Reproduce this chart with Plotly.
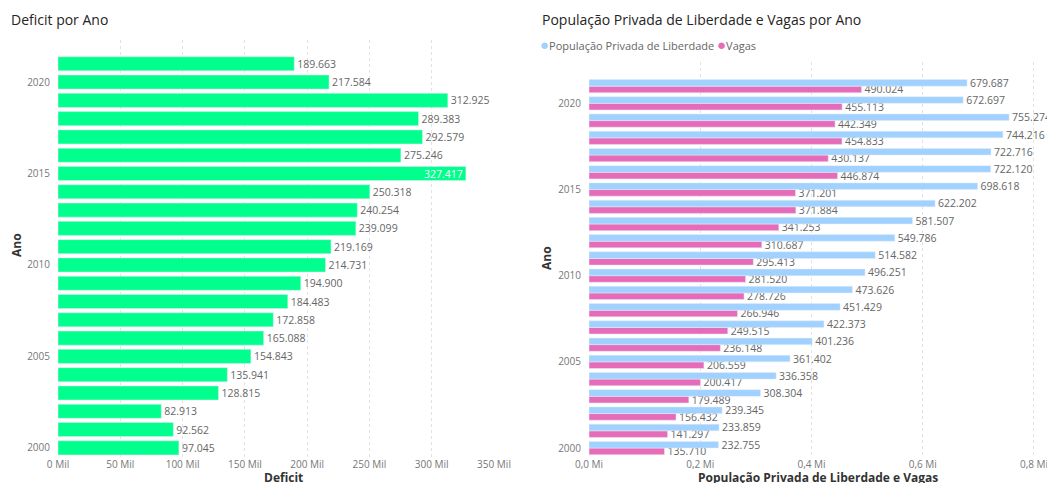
import plotly.graph_objects as go

W, H = 1047, 483

anos = list(range(2021, 1999, -1))  # 2021 .. 2000
deficit = [189663, 217584, 312925, 289383, 292579, 275246, 327417, 250318, 240254, 239099,
           219169, 214731, 194900, 184483, 172858, 165088, 154843, 135941, 128815, 82913,
           92562, 97045]
populacao = [679687, 672697, 755274, 744216, 722716, 722120, 698618, 622202, 581507, 549786,
             514582, 496251, 473626, 451429, 422373, 401236, 361402, 336358, 308304, 239345,
             233859, 232755]
vagas = [490024, 455113, 442349, 454833, 430137, 446874, 371201, 371884, 341253, 310687,
         295413, 281520, 278726, 266946, 249515, 236148, 206559, 200417, 179489, 156432,
         141297, 135710]

left_tickvals = [0, 50000, 100000, 150000, 200000, 250000, 300000, 350000]
left_ticktext = ["0 Mil", "50 Mil", "100 Mil", "150 Mil", "200 Mil", "250 Mil", "300 Mil", "350 Mil"]
right_tickvals = [0, 200000, 400000, 600000, 800000]
right_ticktext = ["0,0 Mi", "0,2 Mi", "0,4 Mi", "0,6 Mi", "0,8 Mi"]
year_ticks = [2000, 2005, 2010, 2015, 2020]

FONT = "Segoe UI, Open Sans, sans-serif"
GREEN = "#00FF8C"
BLUE = "#A0D1FF"
PINK = "#E66CB9"
LABEL = "#666666"
LBL_SIZE = 10.5
TICK_SIZE = 10

def px_x(p):
    return p / W

def px_y(p):
    return 1 - p / H

fig = go.Figure()

max_def = max(deficit)
fig.add_trace(go.Bar(
    y=anos, x=deficit, orientation="h", marker_color=GREEN,
    texttemplate="%{x:,.0f}",
    textposition=["inside" if v == max_def else "outside" for v in deficit],
    insidetextanchor="end", constraintext="none",
    insidetextfont=dict(color="white", size=LBL_SIZE, family=FONT),
    outsidetextfont=dict(color=LABEL, size=LBL_SIZE, family=FONT),
    cliponaxis=False, showlegend=False,
    xaxis="x", yaxis="y",
    hovertemplate="%{y}: %{x:,.0f}<extra></extra>",
))

# in horizontal grouped bars the first trace sits lowest -> add Vagas first
fig.add_trace(go.Bar(
    y=anos, x=vagas, orientation="h", marker_color=PINK,
    name="Vagas",
    texttemplate="%{x:,.0f}", textposition="outside", constraintext="none",
    outsidetextfont=dict(color=LABEL, size=LBL_SIZE, family=FONT),
    cliponaxis=False, showlegend=False,
    xaxis="x2", yaxis="y2",
))
fig.add_trace(go.Bar(
    y=anos, x=populacao, orientation="h", marker_color=BLUE,
    name="População Privada de Liberdade",
    texttemplate="%{x:,.0f}", textposition="outside", constraintext="none",
    outsidetextfont=dict(color=LABEL, size=LBL_SIZE, family=FONT),
    cliponaxis=False, showlegend=False,
    xaxis="x2", yaxis="y2",
))

grid = dict(showgrid=True, gridcolor="#E2E2E2", griddash="dot", gridwidth=1,
            zeroline=False, showline=False, ticks="", automargin=False,
            ticklabeloverflow="allow",
            tickfont=dict(size=TICK_SIZE, color="#777777", family=FONT))
ygrid = dict(showgrid=False, zeroline=False, ticks="", automargin=False,
             tickvals=year_ticks, ticklabelstandoff=7,
             tickfont=dict(size=TICK_SIZE, color="#777777", family=FONT))

def ann(text, x, y, size=12, color="#333333", xanchor="left", textangle=0):
    return dict(text=text, x=px_x(x), y=px_y(y), xref="paper", yref="paper",
                xanchor=xanchor, yanchor="middle", showarrow=False, textangle=textangle,
                font=dict(size=size, color=color, family=FONT))

fig.update_layout(
    width=W, height=H, margin=dict(l=0, r=0, t=0, b=0),
    paper_bgcolor="white", plot_bgcolor="white",
    separators=",.",
    font=dict(family=FONT, color="#333333"),
    barmode="group", bargap=0.23, bargroupgap=0,
    showlegend=False,
    xaxis=dict(domain=[px_x(58), px_x(494)], range=[0, 350000], anchor="y",
               tickvals=left_tickvals, ticktext=left_ticktext, **grid),
    yaxis=dict(domain=[px_y(457), px_y(40)], range=[1999.5, 2022.3], anchor="x", **ygrid),
    xaxis2=dict(domain=[px_x(589), px_x(1040)], range=[0, 810800], anchor="y2",
                tickvals=right_tickvals, ticktext=right_ticktext, **grid),
    yaxis2=dict(domain=[px_y(457), px_y(62)], range=[1999.48, 2022.4], anchor="x2", **ygrid),
    annotations=[
        ann("Deficit por Ano", 9, 19, size=14, color="#252423"),
        ann("População Privada de Liberdade e Vagas por Ano", 540, 19, size=14, color="#252423"),
        ann("<span style='color:%s;font-size:15px'>●</span><span style='color:#666666'>População Privada de Liberdade</span>"
            " <span style='color:%s;font-size:15px'>●</span><span style='color:#666666'>Vagas</span>" % (BLUE, PINK),
            538, 44, size=11),
        ann("<b>Deficit</b>", 283, 477.5, size=12, xanchor="center"),
        ann("<b>População Privada de Liberdade e Vagas</b>", 818, 477.5, size=12, xanchor="center"),
        ann("<b>Ano</b>", 16, 245, size=12, xanchor="center", textangle=-90),
        ann("<b>Ano</b>", 546, 258, size=12, xanchor="center", textangle=-90),
    ],
)

fig.write_html("out.html", config={"displayModeBar": False},
               post_script="document.body.style.margin='0';document.body.style.overflow='hidden';")
